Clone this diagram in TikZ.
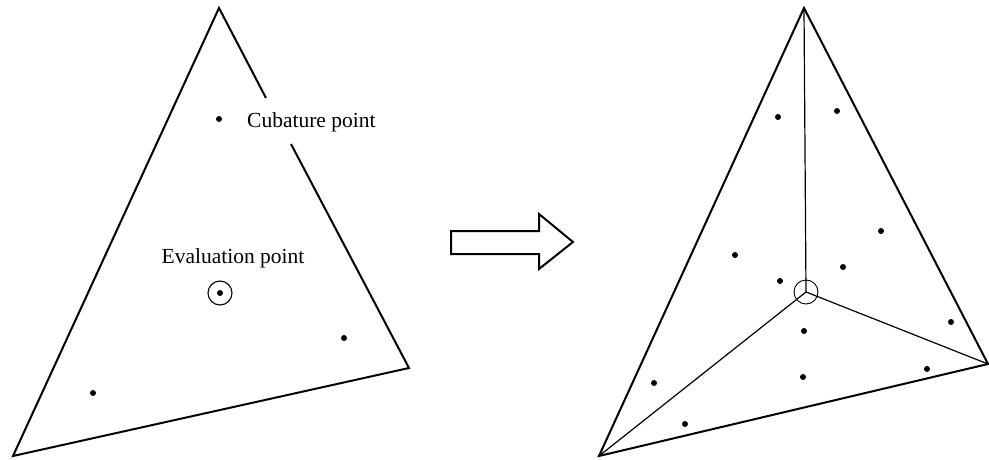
\documentclass[tikz,border=0pt]{standalone}
\usepackage{fontspec}
\setmainfont{Liberation Serif}
\begin{document}
\begin{tikzpicture}[x=1pt,y=-1pt,
  edge/.style={line width=2pt,line join=miter},
  inner/.style={line width=1.2pt},
  dot/.style={circle,fill=black,inner sep=0pt,minimum size=6pt},
  ring/.style={circle,draw,line width=1.1pt,inner sep=0pt,minimum size=24pt},
  lbl/.style={font=\fontsize{21.5}{25}\selectfont,inner sep=0pt}]
\useasboundingbox (0,0) rectangle (989,460);
% left triangle
\coordinate (A) at (219,8);
\coordinate (B) at (13,456);
\coordinate (C) at (409,368);
\coordinate (G1) at (266,98);
\coordinate (G2) at (291,144);
\draw[edge] (G1) -- (A) -- (B) -- (C) -- (G2);
\node[dot] (c1) at (219,119) {};
\node[lbl,anchor=west] (cl) at (247,122) {Cubature point};
\node[lbl] (el) at (233,258) {Evaluation point};
\node[ring] (ev) at (220,293) {};
\node[dot] (evd) at (220,293) {};
\node[dot] (c2) at (344,338) {};
\node[dot] (c3) at (93,393) {};
% arrow
\coordinate (p1) at (451,231);
\coordinate (p2) at (539,231);
\coordinate (p3) at (539,214);
\coordinate (p4) at (573,242);
\coordinate (p5) at (539,269);
\coordinate (p6) at (539,254);
\coordinate (p7) at (451,254);
\draw[edge] (p1) -- (p2) -- (p3) -- (p4) -- (p5) -- (p6) -- (p7) -- cycle;
% right triangle
\coordinate (D) at (804,8);
\coordinate (E) at (599,456);
\coordinate (F) at (988,364);
\coordinate (O) at (806,292);
\draw[edge] (D) -- (E) -- (F) -- cycle;
\draw[inner] (D) -- (O) -- (E);
\draw[inner] (O) -- (F);
\node[ring,line width=0.9pt] (ro) at (O) {};
\foreach \n/\p in {d1/{(778,117)},d2/{(837,111)},d3/{(881,231)},d4/{(735,255)},
  d5/{(843,267)},d6/{(780,281)},d7/{(951,322)},d8/{(804,331)},d9/{(927,369)},
  d10/{(803,377)},d11/{(654,383)},d12/{(685,424)}}
  \node[dot] (\n) at \p {};
\end{tikzpicture}
\end{document}
